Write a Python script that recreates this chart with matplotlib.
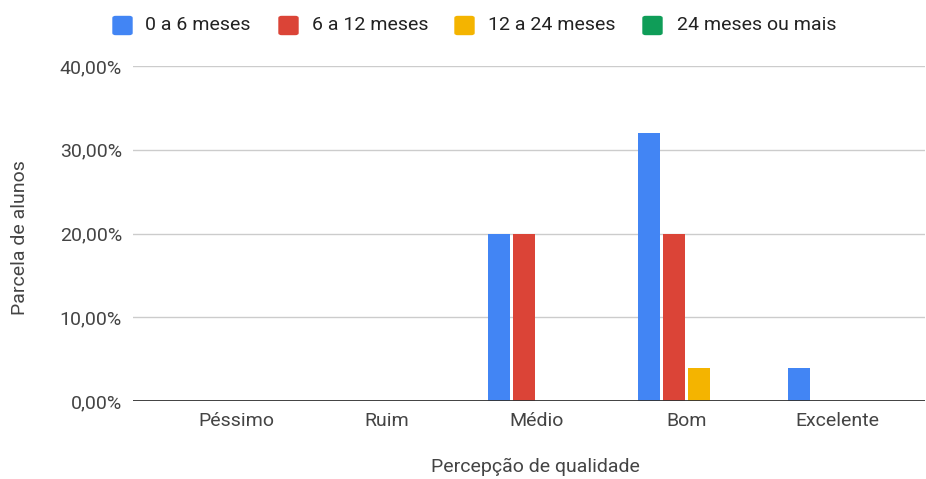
import matplotlib
matplotlib.use("Agg")
import matplotlib.pyplot as plt
from matplotlib.patches import FancyBboxPatch
import numpy as np

plt.rcParams['font.family'] = ['Roboto', 'DejaVu Sans']

categories = ["Péssimo", "Ruim", "Médio", "Bom", "Excelente"]
series_names = ["0 a 6 meses", "6 a 12 meses", "12 a 24 meses", "24 meses ou mais"]
v_0_6 = [0, 0, 20, 32, 4]
v_6_12 = [0, 0, 20, 20, 0]
v_12_24 = [0, 0, 0, 4, 0]
v_24_mais = [0, 0, 0, 0, 0]
series_values = [v_0_6, v_6_12, v_12_24, v_24_mais]
y_ticks = [0, 10, 20, 30, 40]
y_tick_labels = ["0,00%", "10,00%", "20,00%", "30,00%", "40,00%"]

colors = ["#4285F4", "#DB4437", "#F4B400", "#0F9D58"]
text_color = "#444444"
fs = 14

W, H = 926, 479
fig = plt.figure(figsize=(W / 100, H / 100), dpi=100)
left, right, bottom, top = 133, 925, 401, 66
ax = fig.add_axes([left / W, 1 - bottom / H, (right - left) / W, (bottom - top) / H])

x = np.arange(len(categories))
cat_px = 150.25
bar_w = 22 / cat_px
step = 25 / cat_px
n = len(series_values)
for i, (vals, c) in enumerate(zip(series_values, colors)):
    offs = (i - (n - 1) / 2) * step
    ax.bar(x + offs, vals, width=bar_w, color=c, zorder=3, linewidth=0)

ax.set_xlim(-103 / cat_px, 4 + (right - 837) / cat_px)
ax.set_ylim(0, 40)
ax.set_yticks(y_ticks)
ax.set_yticklabels(y_tick_labels)
ax.set_xticks(x)
ax.set_xticklabels(categories)
ax.tick_params(axis='both', length=0, labelsize=fs, colors=text_color)
ax.tick_params(axis='y', pad=8)
ax.tick_params(axis='x', pad=8)
ax.grid(axis='y', color="#cccccc", linewidth=1, zorder=0)
ax.axhline(0, color="#333333", linewidth=1.3, zorder=4)
for s in ax.spines.values():
    s.set_visible(False)

fig.text(535 / W, 1 - 467 / H, "Percepção de qualidade", ha='center', va='center',
         fontsize=fs, color=text_color)
fig.text(20 / W, 1 - 238 / H, "Parcela de alunos", ha='center', va='center',
         rotation=90, fontsize=fs, color=text_color)

# legend row
sw_x = [113, 279, 455, 643]
txt_x = [145, 312, 488, 677]
yc = 25
sw = 19
for name, c, sx, tx in zip(series_names, colors, sw_x, txt_x):
    fig.patches.append(FancyBboxPatch((sx / W, 1 - (yc + sw / 2) / H), sw / W, 18 / H,
                                      boxstyle="round,pad=0,rounding_size=0.003",
                                      transform=fig.transFigure, color=c))
    fig.text(tx / W, 1 - yc / H, name, ha='left', va='center', fontsize=fs,
             color="#222222")

fig.savefig("out.png", dpi=100)
